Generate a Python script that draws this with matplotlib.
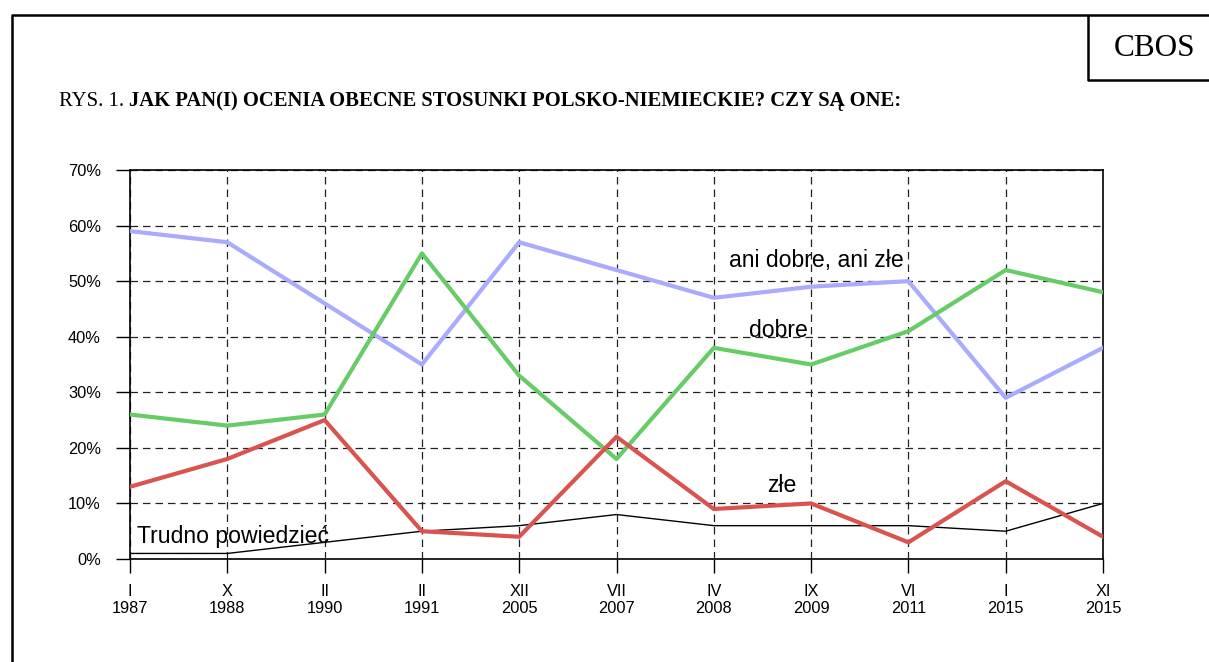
import matplotlib
matplotlib.use('Agg')
import matplotlib.pyplot as plt
from matplotlib.lines import Line2D

# dane (w %)
miesiace = ['I', 'X', 'II', 'II', 'XII', 'VII', 'IV', 'IX', 'VI', 'I', 'XI']
lata = ['1987', '1988', '1990', '1991', '2005', '2007', '2008', '2009', '2011', '2015', '2015']
ani_dobre_ani_zle = [59, 57, 46, 35, 57, 52, 47, 49, 50, 29, 38]
dobre = [26, 24, 26, 55, 33, 18, 38, 35, 41, 52, 48]
zle = [13, 18, 25, 5, 4, 22, 9, 10, 3, 14, 4]
trudno = [1, 1, 3, 5, 6, 8, 6, 6, 6, 5, 10]

W, H = 1209, 662
fig = plt.figure(figsize=(W / 100, H / 100), dpi=100)
fig.patch.set_facecolor('white')

# ramka strony i pole CBOS (w pikselach)
def px_line(xs, ys, lw=1.8):
    fig.add_artist(Line2D([x / W for x in xs], [1 - y / H for y in ys],
                          transform=fig.transFigure, color='black', lw=lw,
                          solid_capstyle='butt'))

px_line([12, 12, W + 5], [H + 5, 15, 15])
px_line([1088, 1088, W + 5], [15, 80, 80])
fig.text(1155 / W, 1 - 48 / H, 'CBOS', family='Liberation Serif', fontsize=22.5,
         ha='center', va='center')

t1 = fig.text(59 / W, 1 - 106 / H, 'RYS. 1. ', family='Liberation Serif',
              fontsize=14.9, va='baseline')
ax = fig.add_axes([130 / W, 1 - 559 / H, (1103 - 130) / W, (559 - 170) / H])
ax.annotate('JAK PAN(I) OCENIA OBECNE STOSUNKI POLSKO-NIEMIECKIE? CZY SĄ ONE:',
            xy=(1, 0), xycoords=t1, va='bottom', ha='left',
            family='Liberation Serif', fontsize=14.9, fontweight='bold',
            annotation_clip=False)

x = list(range(len(lata)))
ax.plot(x, trudno, color='black', lw=1.0, zorder=3)
ax.plot(x, ani_dobre_ani_zle, color='#AAAAFF', lw=3.0, zorder=4)
ax.plot(x, dobre, color='#66CC66', lw=3.0, zorder=4)
ax.plot(x, zle, color='#D9534F', lw=3.0, zorder=4)

ax.set_xlim(0, len(lata) - 1)
ax.set_ylim(0, 70)
ax.set_xticks(x)
ax.set_xticklabels([m + '\n' + r for m, r in zip(miesiace, lata)],
                   family='Liberation Sans', fontsize=11.8)
ax.set_yticks(range(0, 71, 10))
ax.set_yticklabels([f'{v}%' for v in range(0, 71, 10)],
                   family='Liberation Sans', fontsize=11.8)
ax.tick_params(axis='y', length=10, width=1, pad=11, color='black')
ax.tick_params(axis='x', length=10, width=1, pad=8, color='black')

ax.grid(True, color='#222222', lw=0.9, linestyle=(0, (6, 4)))
ax.set_axisbelow(True)
for s in ax.spines.values():
    s.set_color('black')
    s.set_linewidth(1.2)

etykiety = dict(family='Liberation Sans', fontsize=16.6, va='baseline', ha='left', zorder=5)
ax.text(6.16, 52.6, 'ani dobre, ani złe', **etykiety)
ax.text(6.36, 40.0, 'dobre', **etykiety)
ax.text(6.55, 12.1, 'złe', **etykiety)
ax.text(0.07, 2.8, 'Trudno powiedzieć', **etykiety)

fig.savefig('out.png', dpi=100)
